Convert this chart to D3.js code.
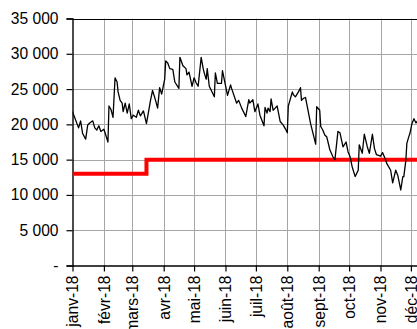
<!DOCTYPE html>
<html>
<head>
<meta charset="utf-8">
<script src="https://cdn.jsdelivr.net/npm/d3@7"></script>
<style>
  html, body { margin: 0; padding: 0; background: #fff; }
  svg { display: block; font-family: "Liberation Sans", Arial, sans-serif; }
</style>
</head>
<body>
<svg id="chart" width="417" height="329"></svg>
<script>
// Daily series (date, value)
const seriesDates = [
  "2018-01-01","2018-01-07","2018-01-09","2018-01-11","2018-01-14","2018-01-16","2018-01-18","2018-01-21","2018-01-23","2018-01-25",
  "2018-01-27","2018-01-29","2018-02-01","2018-02-05","2018-02-06","2018-02-08","2018-02-10","2018-02-12","2018-02-14","2018-02-15",
  "2018-02-17","2018-02-19","2018-02-20","2018-02-22","2018-02-24","2018-02-26","2018-02-28","2018-03-02","2018-03-05","2018-03-07",
  "2018-03-09","2018-03-12","2018-03-15","2018-03-19","2018-03-21","2018-03-24","2018-03-26","2018-03-28","2018-03-30","2018-04-02",
  "2018-04-03","2018-04-05","2018-04-07","2018-04-10","2018-04-12","2018-04-16","2018-04-17","2018-04-20","2018-04-23","2018-04-24",
  "2018-04-26","2018-04-29","2018-05-01","2018-05-03","2018-05-05","2018-05-08","2018-05-10","2018-05-11","2018-05-13","2018-05-14",
  "2018-05-16","2018-05-21","2018-05-22","2018-05-24","2018-05-28","2018-05-29","2018-06-03","2018-06-06","2018-06-07","2018-06-12",
  "2018-06-14","2018-06-17","2018-06-21","2018-06-24","2018-06-25","2018-06-28","2018-06-30","2018-07-03","2018-07-05","2018-07-09",
  "2018-07-10","2018-07-12","2018-07-13","2018-07-15","2018-07-16","2018-07-18","2018-07-20","2018-07-22","2018-07-25","2018-07-28",
  "2018-07-30","2018-08-01","2018-08-02","2018-08-06","2018-08-07","2018-08-09","2018-08-12","2018-08-14","2018-08-15","2018-08-17",
  "2018-08-19","2018-08-24","2018-08-29","2018-08-30","2018-09-02","2018-09-03","2018-09-05","2018-09-07","2018-09-09","2018-09-12",
  "2018-09-15","2018-09-17","2018-09-20","2018-09-22","2018-09-25","2018-09-28","2018-09-30","2018-10-02","2018-10-04","2018-10-07",
  "2018-10-10","2018-10-11","2018-10-14","2018-10-16","2018-10-19","2018-10-21","2018-10-24","2018-10-26","2018-10-28","2018-11-01",
  "2018-11-03","2018-11-06","2018-11-07","2018-11-11","2018-11-13","2018-11-16","2018-11-18","2018-11-19","2018-11-21","2018-11-23",
  "2018-11-24","2018-11-26","2018-11-27","2018-11-29","2018-11-30","2018-12-02","2018-12-04","2018-12-06","2018-12-08"
];
const seriesValues = [
  21800,19500,20500,18700,17900,19900,20200,20500,19500,19200,
  19800,19000,19300,17500,22600,22100,21000,26600,26000,24600,
  23400,23000,21800,23000,21600,22900,20800,21300,21000,22000,
  21200,21900,20100,23400,24800,23400,22300,25200,24300,26400,
  29000,28700,27900,27800,26000,25100,29500,28300,27900,27000,
  27400,25400,26600,25900,25400,29500,27900,27300,26400,27900,
  25400,23900,27300,25800,25800,27600,24100,25600,25100,23000,
  23400,22300,21100,23500,23000,23500,21800,22900,21300,19800,
  22400,21600,22300,21800,23600,22000,22300,22600,20400,19900,
  19400,18800,22600,24600,24200,23900,24600,25200,23400,23700,
  23800,20100,17200,22500,22000,19700,19200,18500,18200,16400,
  15400,15000,19000,18800,16800,17500,16100,15400,14000,12600,
  13500,17100,15900,18600,16800,15900,18600,16600,15700,15500,
  16000,15000,14500,13500,11700,13500,12800,12100,10700,12600,
  12600,14900,17300,18300,18700,20100,20800,20200,20600
];

// Threshold steps (value holds from each date onward)
const stepDates = ["2018-01-01", "2018-03-15", "2018-12-31"];
const stepValues = [13000, 15000, 15000];

// Axis ticks
const monthStarts = ["2018-01-01","2018-02-01","2018-03-01","2018-04-01","2018-05-01","2018-06-01",
                     "2018-07-01","2018-08-01","2018-09-01","2018-10-01","2018-11-01","2018-12-01"];
const monthLabels = ["janv-18","févr-18","mars-18","avr-18","mai-18","juin-18",
                     "juil-18","août-18","sept-18","oct-18","nov-18","déc-18"];
const yTicks = [0, 5000, 10000, 15000, 20000, 25000, 30000, 35000];
const yTickLabels = ["-", "5 000", "10 000", "15 000", "20 000", "25 000", "30 000", "35 000"];

(function drawChart() {
  const parse = d3.utcParse("%Y-%m-%d");
  const series = seriesDates.map((d, i) => ({ date: parse(d), value: seriesValues[i] }));
  const steps = stepDates.map((d, i) => ({ date: parse(d), value: stepValues[i] }));
  const months = monthStarts.map(parse);

  const svg = d3.select("#chart");
  const W = 417;
  const plotLeft = 72.5, plotTop = 18.5, plotBottom = 265.5;
  const dayPx = 1.0132;

  const x = d3.scaleUtc()
    .domain([parse("2018-01-01"), parse("2018-12-31")])
    .range([plotLeft, plotLeft + 364 * dayPx]);
  const y = d3.scaleLinear().domain([0, 35000]).range([plotBottom, plotTop]);

  svg.append("defs").append("clipPath").attr("id", "plot-clip")
    .append("rect").attr("x", plotLeft).attr("y", 0)
    .attr("width", W - plotLeft).attr("height", plotBottom + 2);

  // Gridlines
  const grid = svg.append("g").attr("stroke", "#a6a6a6").attr("stroke-width", 1);
  grid.selectAll(".hg").data(yTicks.filter(v => v > 0 && v < 35000)).join("line")
    .attr("x1", plotLeft).attr("x2", W)
    .attr("y1", d => Math.round(y(d)) + 0.5).attr("y2", d => Math.round(y(d)) + 0.5);
  grid.selectAll(".vg").data(months.slice(1)).join("line")
    .attr("x1", d => Math.round(x(d)) + 0.5).attr("x2", d => Math.round(x(d)) + 0.5)
    .attr("y1", plotTop).attr("y2", plotBottom);

  // Top border
  svg.append("line").attr("x1", plotLeft).attr("x2", W)
    .attr("y1", Math.round(plotTop) + 0.5).attr("y2", Math.round(plotTop) + 0.5)
    .attr("stroke", "#000").attr("stroke-width", 1.2);

  // Y axis
  const yAxis = d3.axisLeft(y).tickValues(yTicks)
    .tickFormat((d, i) => yTickLabels[i]).tickSize(6).tickPadding(8);
  const gy = svg.append("g").attr("transform", `translate(${plotLeft},0)`).call(yAxis);
  gy.select(".domain").attr("stroke", "#000").attr("stroke-width", 1.4);
  gy.selectAll(".tick line").attr("stroke", "#000").attr("stroke-width", 1.2);
  gy.selectAll(".tick text").attr("fill", "#000").attr("font-size", "15.6px")
    .attr("font-family", "Liberation Sans, Arial, sans-serif");

  // X axis
  const xAxis = d3.axisBottom(x).tickValues(months)
    .tickFormat((d, i) => monthLabels[i]).tickSize(6).tickSizeOuter(0);
  const gx = svg.append("g").attr("transform", `translate(0,${plotBottom})`).call(xAxis);
  gx.select(".domain").attr("stroke", "#000").attr("stroke-width", 1.4);
  gx.selectAll(".tick line").attr("stroke", "#000").attr("stroke-width", 1.2);
  gx.selectAll(".tick text")
    .attr("fill", "#000").attr("font-size", "15.6px")
    .attr("font-family", "Liberation Sans, Arial, sans-serif")
    .attr("transform", "rotate(-90)")
    .attr("text-anchor", "end")
    .attr("x", -10).attr("y", 0).attr("dy", "0.35em");

  const plot = svg.append("g").attr("clip-path", "url(#plot-clip)");

  // Threshold step line
  plot.append("path").datum(steps)
    .attr("fill", "none").attr("stroke", "#ff0000").attr("stroke-width", 4)
    .attr("d", d3.line().curve(d3.curveStepAfter).x(d => x(d.date)).y(d => y(d.value)));

  // Daily series
  plot.append("path").datum(series)
    .attr("fill", "none").attr("stroke", "#000").attr("stroke-width", 1.3)
    .attr("stroke-linejoin", "round")
    .attr("d", d3.line().x(d => x(d.date)).y(d => y(d.value)));
})();
</script>
</body>
</html>
